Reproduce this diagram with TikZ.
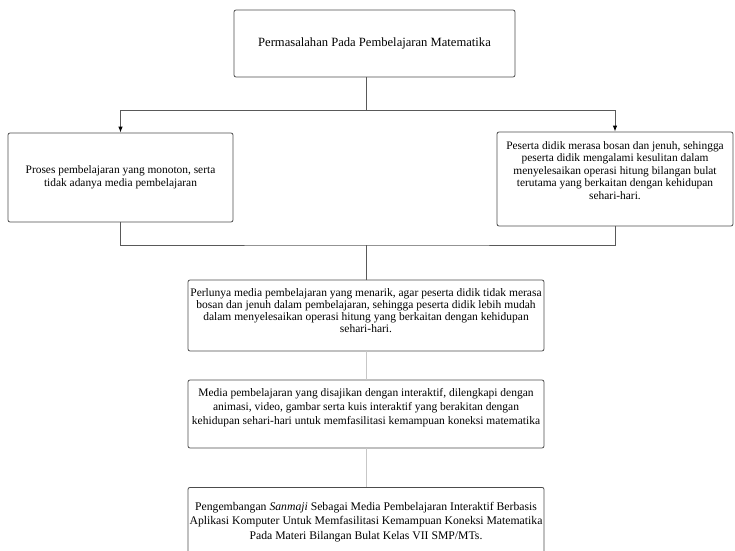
\documentclass[tikz,border=0pt]{standalone}
\usepackage{fontspec}
\setmainfont{Liberation Serif}
\usetikzlibrary{arrows.meta}
\tikzset{
  kotak/.style={draw=black!70, rounded corners=2pt, line width=0.8pt, align=center, inner sep=0pt, font=\fontsize{11.4}{12.5}\selectfont},
  garis/.style={draw=black!65, line width=0.9pt},
  garistipis/.style={draw=black!22, line width=0.9pt},
  panah/.style={garis, -{Latex[length=6pt,width=4.5pt,color=black]}},
}

\begin{document}
\begin{tikzpicture}[x=1pt,y=1pt]
\useasboundingbox (0,0) rectangle (735,550);
\clip (0,0) rectangle (735,550);
% masalah utama
\node[kotak, minimum width=281, minimum height=67, font=\fontsize{12.6}{14}\selectfont] (masalah) at (374.5,506.5) {Permasalahan Pada Pembelajaran Matematika};
\node[kotak, minimum width=225, minimum height=89, font=\fontsize{11.4}{13.3}\selectfont] (monoton) at (120.5,372.5) {Proses pembelajaran yang monoton, serta\\tidak adanya media pembelajaran};
\node[kotak, minimum width=236, minimum height=94, text depth=17pt] (bosan) at (615,371) {Peserta didik merasa bosan dan jenuh, sehingga\\peserta didik mengalami kesulitan dalam\\menyelesaikan operasi hitung bilangan bulat\\terutama yang berkaitan dengan kehidupan\\sehari-hari.};
% solusi
\node[kotak, minimum width=356, minimum height=71, text depth=10pt, font=\fontsize{11.5}{12.3}\selectfont] (perlu) at (366,234.5) {Perlunya media pembelajaran yang menarik, agar peserta didik tidak merasa\\bosan dan jenuh dalam pembelajaran, sehingga peserta didik lebih mudah\\dalam menyelesaikan operasi hitung yang berkaitan dengan kehidupan\\sehari-hari.};
\node[kotak, minimum width=356, minimum height=68, text depth=16pt, font=\fontsize{11.5}{14}\selectfont] (media) at (366,136) {Media pembelajaran yang disajikan dengan interaktif, dilengkapi dengan\\animasi, video, gambar serta kuis interaktif yang berakitan dengan\\kehidupan sehari-hari untuk memfasilitasi kemampuan koneksi matematika};
\node[kotak, anchor=north, minimum width=356, minimum height=80, text depth=14pt, font=\fontsize{11.7}{14.5}\selectfont] (sanmaji) at (366,63) {Pengembangan \textit{Sanmaji} Sebagai Media Pembelajaran Interaktif Berbasis\\Aplikasi Komputer Untuk Memfasilitasi Kemampuan Koneksi Matematika\\Pada Materi Bilangan Bulat Kelas VII SMP/MTs.};
% garis penghubung
\coordinate (cabang) at (366,440);
\coordinate (gabung) at (366,305);
\draw[garis] (masalah.south -| cabang) -- (cabang);
\draw[panah] (cabang) -| (monoton.north);
\draw[panah] (cabang) -| (bosan.north);
\draw[garis] (monoton.south) |- (gabung) -| (bosan.south);
\draw[garis] (gabung) -- (perlu.north);
\draw[garistipis] (perlu.south) -- (media.north);
\draw[garistipis] (media.south) -- (sanmaji.north);
\end{tikzpicture}
\end{document}
